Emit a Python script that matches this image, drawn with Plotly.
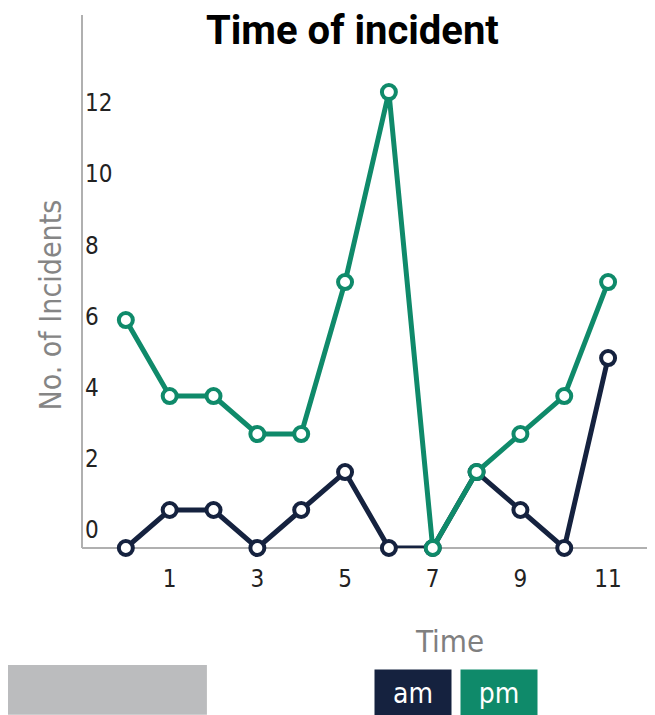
import plotly.graph_objects as go

hours = [0, 1, 2, 3, 4, 5, 6, 7, 8, 9, 10, 11]
am_counts = [0, 1, 1, 0, 1, 2, 0, 0, 2, 1, 0, 5]
pm_counts = [6, 4, 4, 3, 3, 7, 12, 0, 2, 3, 4, 7]
x_ticks = [1, 3, 5, 7, 9, 11]
y_ticks = [0, 2, 4, 6, 8, 10, 12]

NAVY = "#15223f"
GREEN = "#0f8a6a"
GRAY_AX = "#b0b0b0"
COND = "DejaVu Sans Condensed, Liberation Sans Narrow, sans-serif"

fig = go.Figure()
for name, vals, col in [("am", am_counts, NAVY), ("pm", pm_counts, GREEN)]:
    fig.add_trace(go.Scatter(
        x=hours, y=vals, name=name, mode="lines+markers",
        line=dict(color=col, width=5),
        marker=dict(symbol="circle", size=14, color="white",
                    line=dict(color=col, width=4)),
        cliponaxis=False, showlegend=False,
    ))
# tick-label axis (labels sit slightly off the data scale in the reference)
fig.add_trace(go.Scatter(x=[None], y=[None], yaxis="y2", showlegend=False,
                         hoverinfo="skip"))

fig.update_layout(
    width=647, height=707,
    margin=dict(l=74, r=0, t=7, b=167),
    paper_bgcolor="white", plot_bgcolor="white",
    title=dict(text="<b>Time of incident</b>", x=0.472, xref="paper",
               y=0.969, yref="container", xanchor="center", yanchor="middle",
               font=dict(family="Roboto, Lato, sans-serif", size=40, color="black")),
    xaxis=dict(range=[-1.0, 12.07], tickvals=x_ticks, showgrid=False,
               zeroline=False, showline=False, ticks="",
               tickfont=dict(family=COND, size=24, color="#222"),
               ticklabelstandoff=14),
    yaxis=dict(range=[0, 14.03], showgrid=False, zeroline=False,
               showline=False, showticklabels=False, ticks=""),
    yaxis2=dict(range=[-0.506, 14.47], overlaying="y", side="left",
                anchor="x", tickvals=y_ticks, showgrid=False, zeroline=False,
                showline=False, ticks="", ticklabelposition="inside",
                tickfont=dict(family=COND, size=24, color="#222")),
    shapes=[
        dict(type="line", xref="paper", yref="paper", x0=0, x1=0, y0=0, y1=1,
             line=dict(color=GRAY_AX, width=2), layer="below"),
        dict(type="line", xref="paper", yref="paper", x0=0, x1=1, y0=0, y1=0,
             line=dict(color=GRAY_AX, width=2), layer="below"),
        dict(type="rect", xref="paper", yref="paper", x0=-0.145, x1=0.218,
             y0=-0.313, y1=-0.2195, fillcolor="#bbbcbe", line=dict(width=0)),
    ],
    annotations=[
        dict(text="No. of Incidents", textangle=-90, xref="paper", yref="paper",
             x=-0.0558, y=0.455, showarrow=False, xanchor="center", yanchor="middle",
             font=dict(family=COND, size=30, color="#858585")),
        dict(text="Time", xref="paper", yref="paper", x=0.642, y=-0.175,
             showarrow=False, xanchor="center", yanchor="middle",
             font=dict(family=COND, size=31, color="#7f7f7f")),
        dict(text="am", xref="paper", yref="paper", x=0.5785, y=-0.272,
             showarrow=False, xanchor="center", yanchor="middle",
             width=74, height=44, bgcolor=NAVY,
             font=dict(family=COND, size=28, color="white")),
        dict(text="pm", xref="paper", yref="paper", x=0.7277, y=-0.272,
             showarrow=False, xanchor="center", yanchor="middle",
             width=74, height=44, bgcolor=GREEN,
             font=dict(family=COND, size=28, color="white")),
    ],
)

fig.write_html("out.html")
